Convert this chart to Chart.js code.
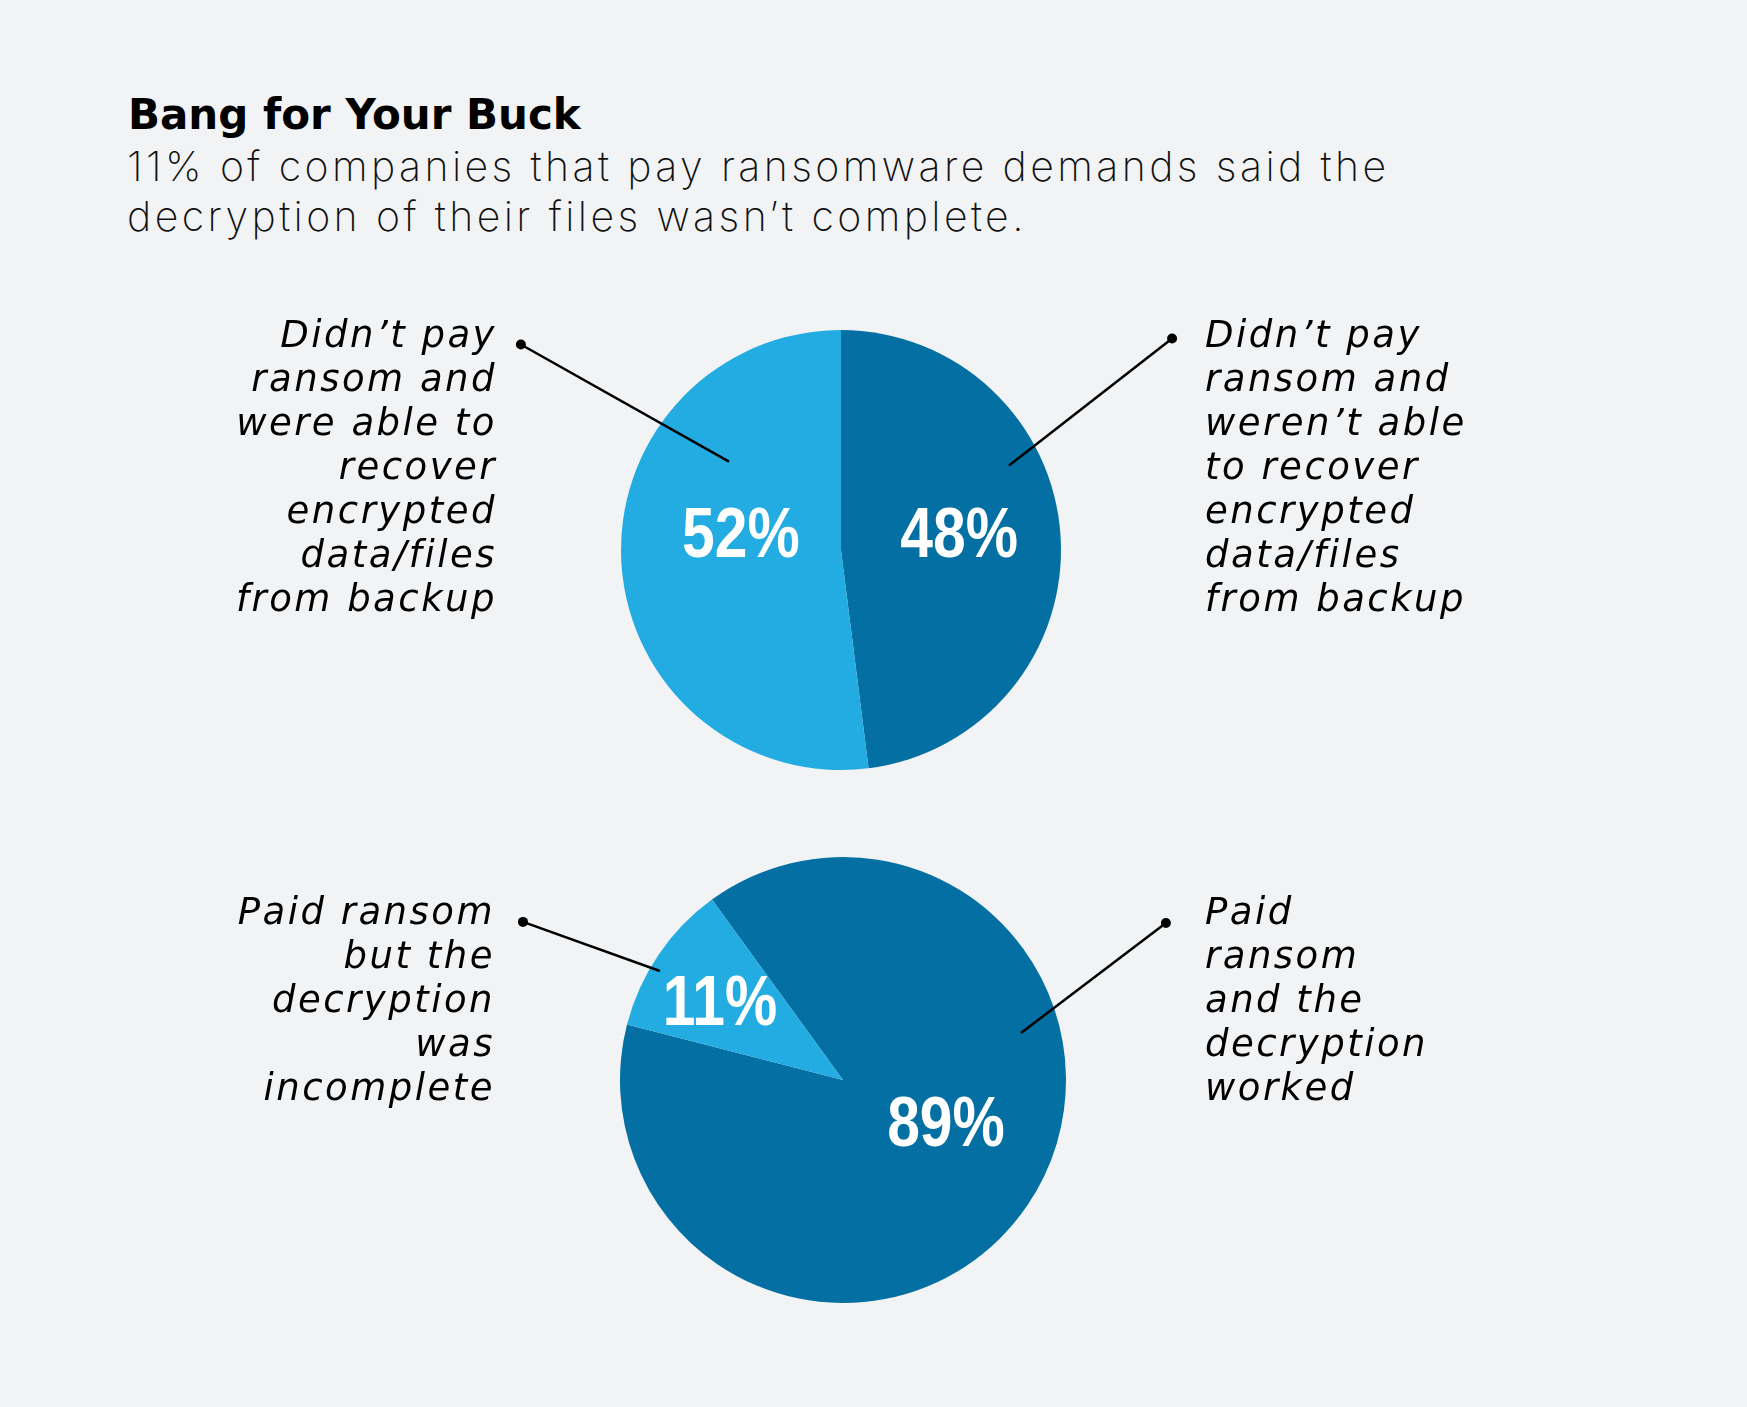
<!DOCTYPE html>
<html>
<head>
<meta charset="utf-8">
<script src="https://cdn.jsdelivr.net/npm/chart.js@4"></script>
<style>
  html, body { margin: 0; padding: 0; background: #f2f3f5; }
  #page { position: relative; width: 1747px; height: 1407px; background: #f2f3f5; overflow: hidden; }
  #title { position: absolute; left: 128px; top: 90px; font: 700 42px "DejaVu Sans", sans-serif; color: #000; letter-spacing: 0px; white-space: nowrap; }
  #subtitle { position: absolute; left: 127px; top: 141px; font: 200 41px/50px "Inter", "Lato", sans-serif; color: #111; letter-spacing: 3.4px; white-space: nowrap; }
  .callout { position: absolute; font: oblique 37px/44px "DejaVu Sans", sans-serif; letter-spacing: 2.5px; color: #000; white-space: nowrap; }
  .callout.left { text-align: right; }
  .callout.right { text-align: left; }
  canvas { position: absolute; }
</style>
</head>
<body>
<div id="page">
  <div id="title">Bang for Your Buck</div>
  <div id="subtitle">11% of companies that pay ransomware demands said the<br>decryption of their files wasn’t complete.</div>
  <canvas id="topPie" width="800" height="460" style="left:441px; top:320px; width:800px; height:460px;"></canvas>
  <canvas id="bottomPie" width="800" height="466" style="left:443px; top:847px; width:800px; height:466px;"></canvas>
</div>
<script>
// top pie: companies that didn't pay
const topCategories = [
    "Didn’t pay ransom and weren’t able to recover encrypted data/files from backup",
    "Didn’t pay ransom and were able to recover encrypted data/files from backup"
];
const topValues = [48, 52];

// bottom pie: companies that paid
const bottomCategories = [
    "Paid ransom and the decryption worked",
    "Paid ransom but the decryption was incomplete"
];
const bottomValues = [89, 11];

// how each callout breaks into lines
const topLines = [
    ["Didn’t pay", "ransom and", "weren’t able", "to recover", "encrypted", "data/files", "from backup"],
    ["Didn’t pay", "ransom and", "were able to", "recover", "encrypted", "data/files", "from backup"]
];
const bottomLines = [
    ["Paid", "ransom", "and the", "decryption", "worked"],
    ["Paid ransom", "but the", "decryption", "was", "incomplete"]
];

const DARK = "#046fa2";
const LIGHT = "#23ace2";

const page = document.getElementById("page");

function addCallout(lines, side, x, top) {
    const div = document.createElement("div");
    div.className = "callout " + side;
    div.innerHTML = lines.join("<br>");
    div.style.top = top + "px";
    if (side === "left") {
        div.style.right = (1747 - x) + "px";
    } else {
        div.style.left = x + "px";
    }
    page.appendChild(div);
}

addCallout(topLines[1], "left", 497, 313);
addCallout(topLines[0], "right", 1205, 313);
addCallout(bottomLines[1], "left", 495, 890);
addCallout(bottomLines[0], "right", 1205, 890);

// draws the % labels and the leader lines with their dots
const pieDecor = {
    id: "pieDecor",
    afterDraw(chart, args, opts) {
        const ctx = chart.ctx;
        const arcs = chart.getDatasetMeta(0).data;
        const cx = arcs[0].x, cy = arcs[0].y, r = arcs[0].outerRadius;
        const values = chart.data.datasets[0].data;

        ctx.save();
        ctx.fillStyle = "#fff";
        ctx.font = 'bold 70px "Liberation Sans", Arial, sans-serif';
        ctx.textAlign = "center";
        ctx.textBaseline = "alphabetic";
        arcs.forEach((arc, i) => {
            const s = opts.spots[i];
            const a = (s.angle - 90) * Math.PI / 180;
            const x = cx + Math.cos(a) * s.frac * r;
            const y = cy + Math.sin(a) * s.frac * r;
            // squeeze horizontally for a condensed look
            ctx.save();
            ctx.translate(x, y + 25);
            ctx.scale(0.84, 1);
            ctx.fillText(values[i] + "%", 0, 0);
            ctx.restore();
        });

        ctx.strokeStyle = "#000";
        ctx.fillStyle = "#000";
        ctx.lineWidth = 2.5;
        opts.leaders.forEach(l => {
            const x1 = cx + l.dot[0] * r, y1 = cy + l.dot[1] * r;
            const x2 = cx + l.end[0] * r, y2 = cy + l.end[1] * r;
            ctx.beginPath();
            ctx.moveTo(x1, y1);
            ctx.lineTo(x2, y2);
            ctx.stroke();
            ctx.beginPath();
            ctx.arc(x1, y1, 5, 0, Math.PI * 2);
            ctx.fill();
        });
        ctx.restore();
    }
};

function makePie(id, labels, values, colors, rotation, decor) {
    return new Chart(document.getElementById(id), {
        type: "pie",
        data: {
            labels,
            datasets: [{
                data: values,
                backgroundColor: colors,
                borderWidth: 0
            }]
        },
        options: {
            responsive: false,
            animation: false,
            events: [],
            rotation,
            layout: { padding: { top: 10, bottom: 10 } },
            plugins: {
                legend: { display: false },
                tooltip: { enabled: false },
                pieDecor: decor
            }
        },
        plugins: [pieDecor]
    });
}

makePie("topPie", topCategories, topValues, [DARK, LIGHT], 0, {
    spots: [{ angle: 81.3, frac: 0.543 }, { angle: 280.2, frac: 0.462 }],
    leaders: [
        { dot: [-1.455, -0.934], end: [-0.509, -0.402] },
        { dot: [1.505, -0.961], end: [0.764, -0.384] }
    ]
});

makePie("bottomPie", bottomCategories, bottomValues, [DARK, LIGHT], -36, {
    spots: [{ angle: 111.7, frac: 0.497 }, { angle: 303, frac: 0.658 }],
    leaders: [
        { dot: [-1.435, -0.709], end: [-0.821, -0.489] },
        { dot: [1.448, -0.704], end: [0.798, -0.211] }
    ]
});
</script>
</body>
</html>
